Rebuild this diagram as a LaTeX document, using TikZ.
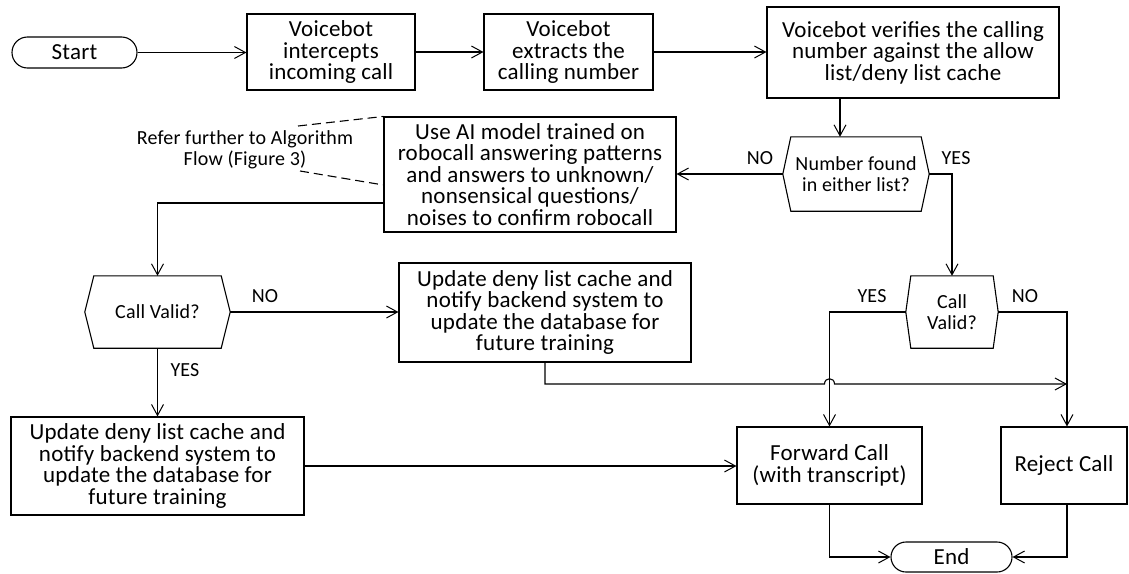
\documentclass[tikz,border=0pt]{standalone}
\usepackage{fontspec}
\setmainfont{Carlito}[LetterSpace=1]
\usetikzlibrary{arrows.meta,shapes.misc}
\tikzset{
  line/.style={line width=1.1pt},
  arr/.style={line, -{Straight Barb[length=11pt,width=12pt,line width=1pt]}},
  bigtxt/.style={font=\fontsize{23}{21.5}\selectfont, align=center},
  smalltxt/.style={font=\fontsize{20}{21}\selectfont, align=center},
  proc/.style={draw, line, fill=white, bigtxt, inner sep=0pt},
  term/.style={rounded rectangle, draw, line, fill=white, bigtxt, inner sep=0pt},
  dec/.style={smalltxt, inner sep=0pt},
  lbl/.style={smalltxt, inner sep=0pt},
  note/.style={line, dash pattern=on 9pt off 5pt}
}
\newcommand\hexa[2]{\draw[line] ([xshift=#2]#1.north west) -- ([xshift=-#2]#1.north east) -- (#1.east) -- ([xshift=-#2]#1.south east) -- ([xshift=#2]#1.south west) -- (#1.west) -- cycle;}
\begin{document}
\begin{tikzpicture}[x=1pt,y=-1pt]
\useasboundingbox (0,0) rectangle (1129,573);

% nodes
\node[term, minimum width=125, minimum height=31] (start) at (74.5,52.5) {Start};
\node[proc, minimum width=168, minimum height=76] (b1) at (331,52) {Voicebot\\intercepts\\incoming call};
\node[proc, minimum width=169, minimum height=76] (b2) at (568.5,52) {Voicebot\\extracts the\\calling number};
\node[proc, minimum width=292, minimum height=91] (b3) at (913,52.5) {Voicebot verifies the calling\\number against the allow\\list/deny list cache};
\node[dec, minimum width=146, minimum height=74] (d1) at (856,174) {Number found\\in either list?};
\hexa{d1}{8}
\node[proc, minimum width=292, minimum height=115] (ai) at (530,174.5) {Use AI model trained on\\robocall answering patterns\\and answers to unknown/\\nonsensical questions/\\noises to confirm robocall};
\node[dec, minimum width=145, minimum height=72] (d2) at (157.5,312) {Call Valid?};
\hexa{d2}{9}
\node[dec, minimum width=92, minimum height=72] (d3) at (952,312) {Call\\Valid?};
\hexa{d3}{5}
\node[proc, minimum width=292, minimum height=99] (u1) at (545,312.5) {Update deny list cache and\\notify backend system to\\update the database for\\future training};
\node[proc, minimum width=293, minimum height=98] (u2) at (157.5,466) {Update deny list cache and\\notify backend system to\\update the database for\\future training};
\node[proc, minimum width=185, minimum height=77] (fwd) at (829.5,465.5) {Forward Call\\(with transcript)};
\node[proc, minimum width=126, minimum height=77] (rej) at (1064,465.5) {Reject Call};
\node[term, minimum width=121, minimum height=30] (end) at (951.5,557) {End};

% annotation
\node[smalltxt, inner sep=0pt] (ref) at (245,150) {Refer further to Algorithm\\Flow (Figure 3)};
\coordinate (n1) at (298,126);
\coordinate (n2) at (300,171);
\draw[note] (n1) -- (ai.north west);
\draw[note] (n2) -- ([yshift=-10.5pt]ai.west);

% helper coordinates
\coordinate (xa) at (840,0);
\coordinate (k1) at (157.5,203);
\coordinate (h) at (829.5,384);
\coordinate (rx) at (1067,0);
\coordinate (nx) at (1067,384);

% connectors
\draw[arr] (start.east) -- (b1.west |- start.east);
\draw[arr] (b1.east) -- (b2.west);
\draw[arr] (b2.east) -- (b3.west |- b2.east);
\draw[arr] (b3.south -| xa) -- (d1.north -| xa);
\draw[arr] (d1.west) -- (d1.west -| ai.east);
\draw[arr] (d1.east) -- (d1.east -| d3.north) -- (d3.north);
\draw[arr] (ai.west |- k1) -- (k1) -- (d2.north);
\draw[arr] (d2.east) -- (d2.east -| u1.west);
\draw[arr] (d2.south) -- (u2.north);
\draw[arr] (u1.south) -- (u1.south |- h) -- ([xshift=-5pt]h) .. controls ([xshift=-5pt,yshift=7pt]h) and ([xshift=5pt,yshift=7pt]h) .. ([xshift=5pt]h) -- (nx);
\draw[arr] (d3.west) -- (d3.west -| fwd.north) -- (fwd.north);
\draw[arr] (d3.east) -- (d3.east -| rx) -- (rej.north -| rx);
\draw[arr] (u2.east) -- (fwd.west |- u2.east);
\draw[arr] (fwd.south) -- (fwd.south |- end.west) -- (end.west);
\draw[arr] (rej.south -| rx) -- (rx |- end.east) -- (end.east);

% labels
\node[lbl] (l1) at (760,158) {NO};
\node[lbl] (l2) at (956,158) {YES};
\node[lbl] (l3) at (265,296) {NO};
\node[lbl] (l4) at (185,370) {YES};
\node[lbl] (l5) at (872,296) {YES};
\node[lbl] (l6) at (1025,296) {NO};
\end{tikzpicture}
\end{document}
